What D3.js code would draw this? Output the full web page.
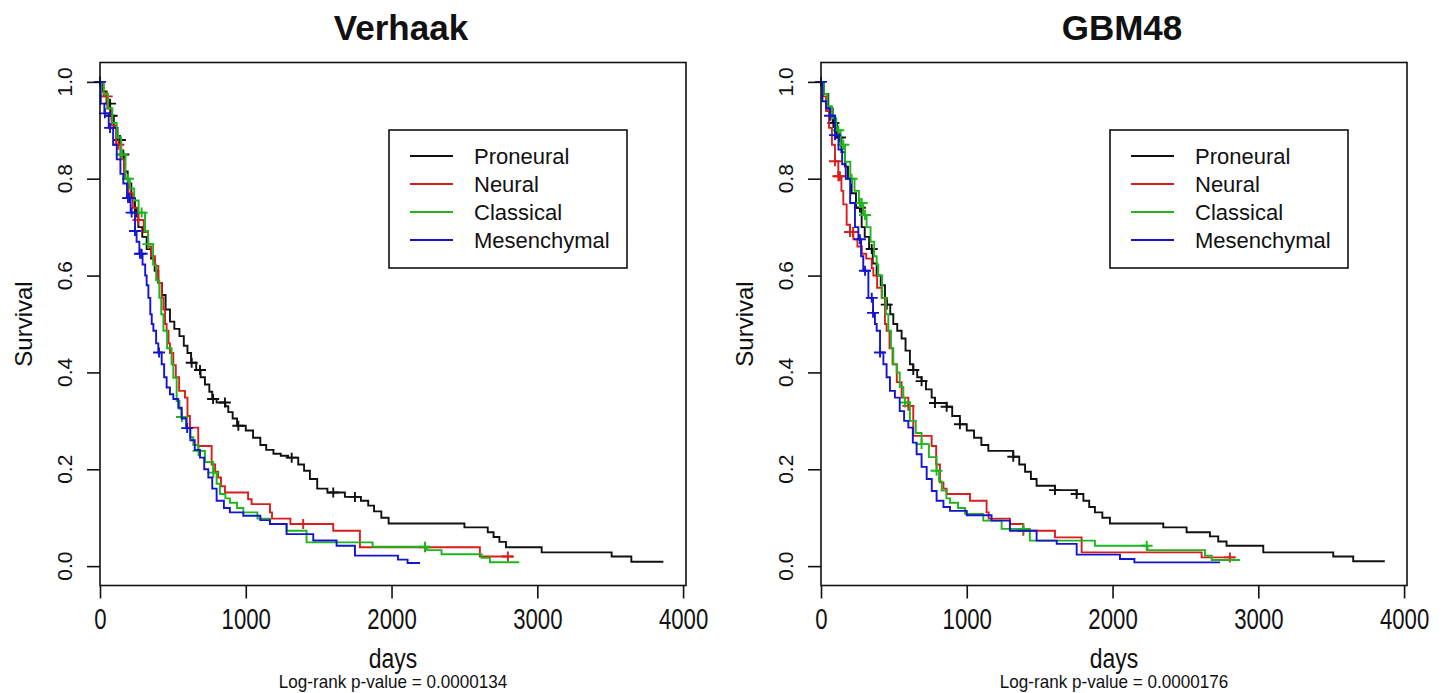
<!DOCTYPE html>
<html lang="en">
<head>
  <meta charset="UTF-8">
  <title>Survival by subtype</title>
  <script src="https://d3js.org/d3.v7.min.js"></script>
  <style>
    html, body {
      margin: 0;
      padding: 0;
      background: #fff;
    }
    svg text {
      font-family: "Liberation Sans", Arial, sans-serif;
      fill: #111;
    }
    .box {
      fill: none;
      stroke: #111;
      stroke-width: 1.6;
    }
    .axis line {
      stroke: #111;
      stroke-width: 1.6;
    }
    .km {
      fill: none;
      stroke-width: 1.9;
    }
  </style>
</head>
<body>
  <div id="container"></div>

  <script>
    const subtypes = ['Proneural', 'Neural', 'Classical', 'Mesenchymal'];
    const colors = ['#111111', '#d91e1e', '#1fb51f', '#1515cf'];
    const xTicks = [0, 1000, 2000, 3000, 4000];
    const yTicks = [0, 0.2, 0.4, 0.6, 0.8, 1.0];

    // ---- Verhaak (left) ----
    const verProneuralT = [0, 20, 45, 70, 95, 120, 145, 165, 190, 215, 240, 263, 290, 320, 350, 375, 400, 425, 450, 480, 510, 545, 575, 600, 625, 660, 690, 720, 750, 770, 800, 860, 880, 910, 940, 1000, 1050, 1100, 1140, 1190, 1240, 1290, 1360, 1400, 1440, 1490, 1560, 1680, 1790, 1840, 1880, 1930, 1980, 2500, 2660, 2700, 2740, 2785, 3030, 3510, 3645];
    const verProneuralS = [1.0, 0.98, 0.955, 0.93, 0.905, 0.88, 0.85, 0.815, 0.79, 0.76, 0.73, 0.70, 0.68, 0.655, 0.635, 0.61, 0.585, 0.56, 0.53, 0.505, 0.49, 0.475, 0.455, 0.44, 0.42, 0.405, 0.39, 0.375, 0.36, 0.345, 0.338, 0.33, 0.318, 0.305, 0.29, 0.28, 0.265, 0.25, 0.24, 0.232, 0.228, 0.224, 0.21, 0.197, 0.18, 0.16, 0.152, 0.143, 0.135, 0.125, 0.113, 0.1, 0.088, 0.08, 0.07, 0.06, 0.05, 0.039, 0.0285, 0.02, 0.009];
    const verProneuralCens = [69, 80, 137, 160, 251, 629, 686, 776, 857, 949, 1315, 1600, 1749];

    const verNeuralT = [0, 25, 50, 80, 110, 140, 165, 195, 225, 260, 300, 330, 350, 377, 400, 423, 435, 446, 457, 470, 480, 503, 520, 543, 583, 600, 617, 674, 766, 790, 810, 830, 857, 1016, 1040, 1166, 1180, 1306, 1600, 1783, 2606];
    const verNeuralS = [1, 0.97, 0.945, 0.91, 0.87, 0.84, 0.80, 0.77, 0.74, 0.715, 0.69, 0.66, 0.64, 0.62, 0.585, 0.555, 0.53, 0.5, 0.486, 0.46, 0.44, 0.415, 0.39, 0.362, 0.348, 0.31, 0.286, 0.248, 0.21, 0.195, 0.183, 0.165, 0.152, 0.138, 0.128, 0.111, 0.098, 0.087, 0.073, 0.039, 0.020];
    const verNeuralCens = [46, 126, 263, 1394, 2229, 2798];

    const verClassicalT = [0, 25, 55, 85, 115, 145, 175, 205, 235, 265, 309, 330, 364, 385, 407, 420, 435, 460, 491, 503, 526, 545, 560, 590, 617, 640, 674, 720, 776, 800, 823, 860, 891, 940, 983, 1080, 1166, 1280, 1417, 1870, 2240, 2343, 2618, 2675];
    const verClassicalS = [1, 0.975, 0.945, 0.915, 0.885, 0.85, 0.80, 0.78, 0.755, 0.73, 0.692, 0.665, 0.623, 0.59, 0.554, 0.52, 0.486, 0.45, 0.417, 0.389, 0.341, 0.325, 0.308, 0.285, 0.266, 0.25, 0.238, 0.215, 0.193, 0.17, 0.149, 0.14, 0.131, 0.12, 0.111, 0.098, 0.087, 0.073, 0.049, 0.040, 0.033, 0.0245, 0.017, 0.008];
    const verClassicalCens = [149, 192, 286, 331, 562, 676, 778, 2229];

    const verMesenchymalT = [0, 5, 30, 60, 90, 115, 140, 160, 185, 210, 240, 251, 270, 292, 310, 320, 332, 345, 355, 366, 385, 400, 423, 440, 457, 480, 503, 537, 560, 594, 620, 650, 686, 715, 743, 770, 800, 850, 891, 983, 1100, 1166, 1280, 1463, 1623, 1749, 2044, 2110];
    const verMesenchymalS = [1, 0.955, 0.935, 0.905, 0.87, 0.84, 0.81, 0.79, 0.76, 0.73, 0.692, 0.67, 0.645, 0.623, 0.6, 0.58, 0.554, 0.52, 0.5, 0.486, 0.46, 0.441, 0.417, 0.39, 0.369, 0.355, 0.345, 0.327, 0.305, 0.285, 0.26, 0.24, 0.224, 0.2, 0.183, 0.16, 0.135, 0.12, 0.111, 0.104, 0.095, 0.087, 0.066, 0.053, 0.042, 0.0216, 0.0134, 0.0066];
    const verMesenchymalCens = [0, 34, 69, 192, 201, 217, 240, 274, 286, 405, 598];

    const verEnds = [3865, 2833, 2876, 2195];

    // ---- GBM48 (right) ----
    const gbmProneuralT = [0, 20, 50, 80, 110, 140, 165, 185, 210, 240, 279, 300, 330, 355, 382, 410, 439, 451, 475, 496, 523, 553, 580, 610, 633, 660, 690, 720, 759, 782, 862, 900, 953, 1000, 1050, 1100, 1148, 1319, 1360, 1400, 1440, 1479, 1605, 1754, 1800, 1840, 1879, 1930, 1982, 2348, 2508, 2668, 2725, 2782, 3034, 3514, 3651];
    const gbmProneuralS = [1, 0.975, 0.945, 0.915, 0.885, 0.855, 0.825, 0.80, 0.77, 0.74, 0.70, 0.68, 0.655, 0.625, 0.60, 0.58, 0.554, 0.54, 0.52, 0.50, 0.486, 0.47, 0.445, 0.417, 0.405, 0.39, 0.382, 0.365, 0.348, 0.337, 0.329, 0.31, 0.293, 0.28, 0.265, 0.25, 0.238, 0.226, 0.21, 0.195, 0.18, 0.166, 0.157, 0.149, 0.135, 0.122, 0.111, 0.1, 0.088, 0.080, 0.070, 0.0615, 0.051, 0.042, 0.0285, 0.020, 0.010];
    const gbmProneuralCens = [85, 130, 267, 348, 451, 633, 690, 782, 862, 953, 1319, 1605, 1754];

    const gbmNeuralT = [0, 15, 35, 55, 75, 96, 119, 140, 153, 176, 199, 222, 250, 280, 310, 348, 359, 385, 416, 439, 450, 470, 491, 520, 553, 599, 633, 759, 790, 816, 840, 862, 1022, 1136, 1150, 1296, 1388, 1605, 1788, 2611];
    const gbmNeuralS = [1, 0.97, 0.94, 0.905, 0.87, 0.836, 0.805, 0.775, 0.747, 0.705, 0.69, 0.675, 0.66, 0.645, 0.635, 0.615, 0.6, 0.575, 0.554, 0.50, 0.486, 0.45, 0.417, 0.38, 0.348, 0.331, 0.269, 0.248, 0.21, 0.173, 0.16, 0.149, 0.135, 0.111, 0.098, 0.087, 0.073, 0.0594, 0.0285, 0.018];
    const gbmNeuralCens = [96, 119, 130, 199, 220, 599, 1388, 2805];

    const gbmClassicalT = [0, 20, 45, 75, 105, 135, 165, 201, 230, 260, 290, 313, 340, 365, 382, 393, 420, 445, 462, 480, 496, 519, 540, 565, 576, 610, 650, 690, 740, 793, 810, 828, 860, 885, 940, 988, 1113, 1239, 1433, 1879, 2240, 2634, 2680];
    const gbmClassicalS = [1, 0.975, 0.95, 0.925, 0.9, 0.87, 0.835, 0.80, 0.775, 0.75, 0.725, 0.70, 0.67, 0.64, 0.623, 0.60, 0.554, 0.52, 0.486, 0.45, 0.417, 0.40, 0.37, 0.348, 0.338, 0.3, 0.275, 0.252, 0.225, 0.197, 0.175, 0.156, 0.14, 0.131, 0.12, 0.108, 0.094, 0.077, 0.0526, 0.042, 0.033, 0.0216, 0.0128];
    const gbmClassicalCens = [119, 153, 210, 267, 279, 302, 576, 690, 793, 1388, 2234];

    const gbmMesenchymalT = [0, 10, 35, 62, 96, 120, 145, 170, 200, 233, 256, 275, 290, 325, 357, 370, 382, 405, 428, 450, 473, 507, 540, 570, 599, 630, 656, 690, 725, 760, 793, 840, 885, 1000, 1170, 1296, 1479, 1617, 1754, 2051, 2150];
    const gbmMesenchymalS = [1, 0.96, 0.945, 0.93, 0.89, 0.86, 0.83, 0.80, 0.75, 0.70, 0.675, 0.64, 0.61, 0.554, 0.523, 0.50, 0.486, 0.441, 0.417, 0.39, 0.362, 0.348, 0.32, 0.3, 0.286, 0.255, 0.231, 0.205, 0.18, 0.155, 0.135, 0.122, 0.114, 0.105, 0.094, 0.073, 0.0526, 0.046, 0.0237, 0.0148, 0.0078];
    const gbmMesenchymalCens = [0, 62, 96, 267, 302, 348, 357, 405];

    const gbmEnds = [3868, 2840, 2874, 2737];

    const titles = ['Verhaak', 'GBM48'];
    const pValues = ['0.0000134', '0.0000176'];

    // ---- layout ----
    const width = 1445;
    const height = 693;
    const plotW = 586;
    const plotH = 523;
    const panelX = [100, 821];
    const panelY = 62.5;

    const svg = d3.select('#container').append('svg')
      .attr('width', width).attr('height', height);

    const x = d3.scaleLinear().domain([0, 4020]).range([0, plotW]);
    const y = d3.scaleLinear().domain([-0.04, 1.04]).range([plotH, 0]);

    const line = d3.line()
      .x(d => x(d[0]))
      .y(d => y(d[1]))
      .curve(d3.curveStepAfter);

    // survival value at time t (step function)
    function survAt(T, S, t) {
      const i = d3.bisectRight(T, t) - 1;
      return S[Math.max(i, 0)];
    }

    function drawPanel(idx, series) {
      const g = svg.append('g').attr('transform', `translate(${panelX[idx]},${panelY})`);

      // title
      svg.append('text')
        .attr('x', panelX[idx] + plotW / 2 + 8)
        .attr('y', 40)
        .attr('text-anchor', 'middle')
        .style('font-size', '35px')
        .style('font-weight', 'bold')
        .text(titles[idx]);

      // curves
      series.forEach((s, k) => {
        const pts = s.T.map((t, i) => [t, s.S[i]]);
        pts.push([s.end, s.S[s.S.length - 1]]);
        g.append('path').datum(pts).attr('class', 'km')
          .attr('stroke', colors[k]).attr('d', line);

        g.selectAll(null).data(s.cens).enter().append('path')
          .attr('class', 'km')
          .attr('stroke', colors[k])
          .attr('stroke-width', 1.6)
          .attr('d', t => {
            const cx = x(t), cy = y(survAt(s.T, s.S, t));
            return `M${cx - 6},${cy}H${cx + 6}M${cx},${cy - 5}V${cy + 5}`;
          });
      });

      // box
      g.append('rect').attr('class', 'box')
        .attr('width', plotW).attr('height', plotH);

      // x axis
      const xa = g.append('g').attr('class', 'axis')
        .attr('transform', `translate(0,${plotH})`)
        .call(d3.axisBottom(x).tickValues(xTicks).tickSize(13).tickFormat(d3.format('d')));
      xa.select('.domain').remove();
      xa.selectAll('text')
        .attr('y', 0)
        .attr('dy', 0)
        .attr('transform', 'translate(0,43) scale(0.74,1)')
        .style('font-size', '30px');

      // y axis (ticks only, labels drawn rotated below)
      const ya = g.append('g').attr('class', 'axis')
        .call(d3.axisLeft(y).tickValues(yTicks).tickSize(13).tickFormat(''));
      ya.select('.domain').remove();

      g.selectAll(null).data(yTicks).enter().append('text')
        .attr('x', -28)
        .attr('y', d => y(d))
        .attr('text-anchor', 'middle')
        .attr('transform', d => `rotate(-90,-28,${y(d)})`)
        .style('font-size', '21px')
        .text(d3.format('.1f'));

      // axis titles
      g.append('text')
        .attr('transform', `translate(-68,${plotH / 2}) rotate(-90)`)
        .attr('text-anchor', 'middle')
        .style('font-size', '24px')
        .text('Survival');

      g.append('text')
        .attr('transform', `translate(${plotW / 2},${plotH + 82}) scale(0.85,1)`)
        .attr('text-anchor', 'middle')
        .style('font-size', '27px')
        .text('days');

      g.append('text')
        .attr('transform', `translate(${plotW / 2},${plotH + 102}) scale(0.95,1)`)
        .attr('text-anchor', 'middle')
        .style('font-size', '18px')
        .text('Log-rank p-value = ' + pValues[idx]);

      // legend
      const lg = g.append('g').attr('transform', 'translate(289,67.5)');
      lg.append('rect').attr('class', 'box').attr('width', 238).attr('height', 138);
      subtypes.forEach((name, k) => {
        const ry = 26 + k * 28;
        lg.append('line')
          .attr('x1', 21).attr('x2', 64).attr('y1', ry).attr('y2', ry)
          .attr('stroke', colors[k]).attr('stroke-width', 2.2);
        lg.append('text')
          .attr('x', 85).attr('y', ry + 8)
          .style('font-size', '22px')
          .text(name);
      });
    }

    drawPanel(0, [
      { T: verProneuralT, S: verProneuralS, cens: verProneuralCens, end: verEnds[0] },
      { T: verNeuralT, S: verNeuralS, cens: verNeuralCens, end: verEnds[1] },
      { T: verClassicalT, S: verClassicalS, cens: verClassicalCens, end: verEnds[2] },
      { T: verMesenchymalT, S: verMesenchymalS, cens: verMesenchymalCens, end: verEnds[3] }
    ]);

    drawPanel(1, [
      { T: gbmProneuralT, S: gbmProneuralS, cens: gbmProneuralCens, end: gbmEnds[0] },
      { T: gbmNeuralT, S: gbmNeuralS, cens: gbmNeuralCens, end: gbmEnds[1] },
      { T: gbmClassicalT, S: gbmClassicalS, cens: gbmClassicalCens, end: gbmEnds[2] },
      { T: gbmMesenchymalT, S: gbmMesenchymalS, cens: gbmMesenchymalCens, end: gbmEnds[3] }
    ]);
  </script>
</body>
</html>
